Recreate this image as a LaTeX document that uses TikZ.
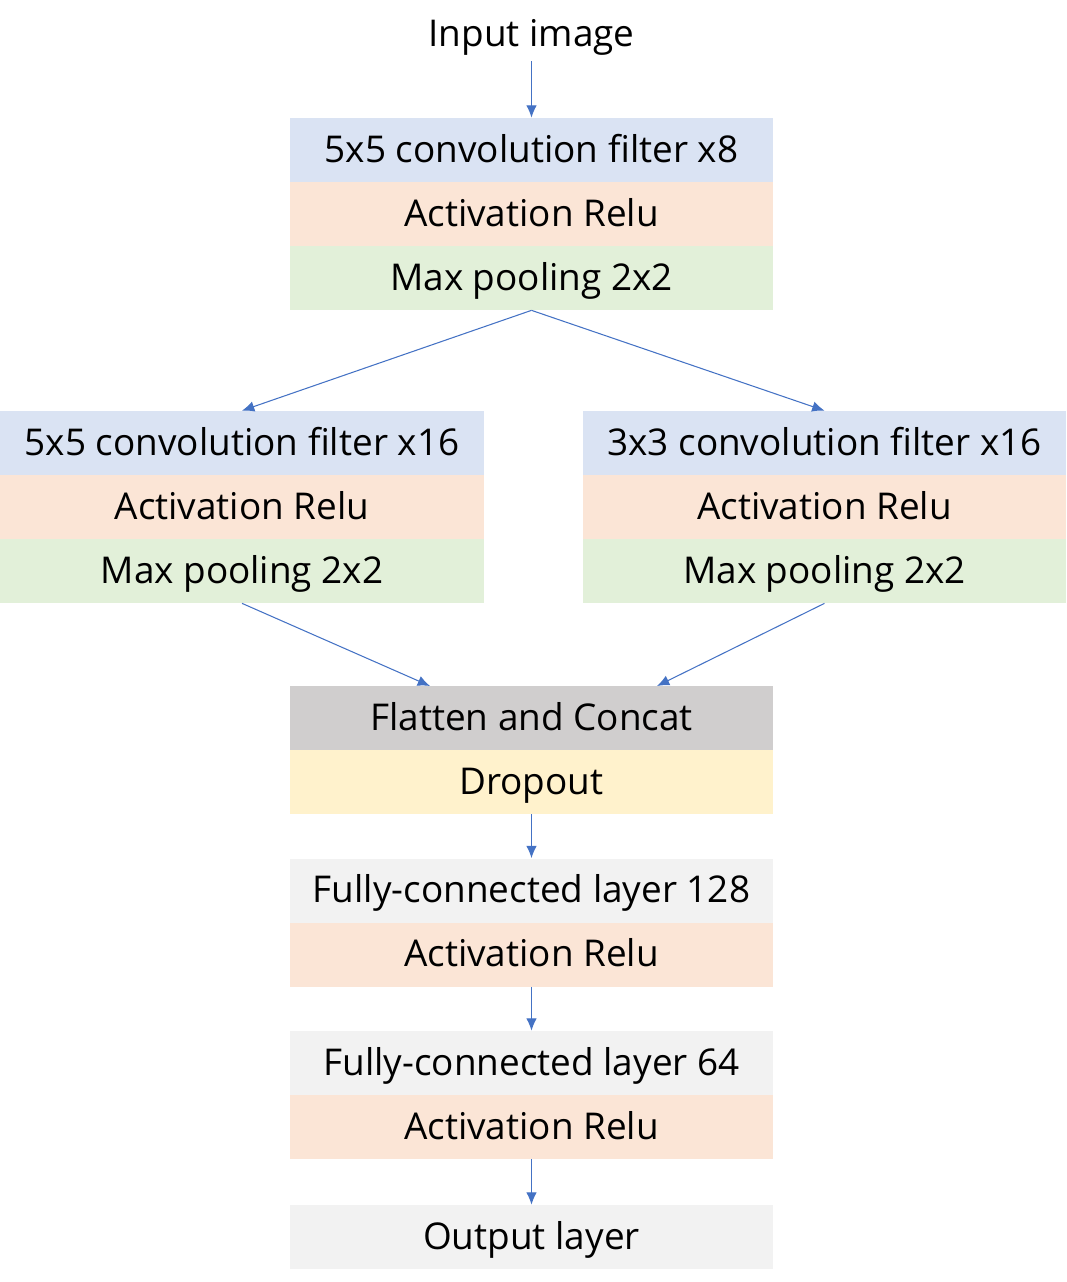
\documentclass[tikz,border=0pt]{standalone}
\usepackage{fontspec}
\setmainfont{Open Sans}
\usetikzlibrary{arrows.meta}
\definecolor{cblue}{HTML}{DAE3F3}
\definecolor{corange}{HTML}{FBE5D6}
\definecolor{cgreen}{HTML}{E2F0D9}
\definecolor{cgray}{HTML}{D0CECE}
\definecolor{cyellow}{HTML}{FFF2CC}
\definecolor{clight}{HTML}{F2F2F2}
\definecolor{carrow}{HTML}{4472C4}
\begin{document}
\begin{tikzpicture}[every node/.style={font=\fontsize{21}{24}\selectfont},
  row/.style={inner sep=0pt,minimum width=9.66cm,minimum height=1.28cm,text height=1.4em,text depth=0pt},
  flow/.style={-{Latex[length=7pt,width=6pt]},carrow,line width=0.6pt}]
\useasboundingbox (0,0) rectangle (21.32,-25.64);
\node (inp) at (10.63,-0.74) {Input image};
% first branch point
\node[row,fill=cblue] (convA) at (10.63,-3.0) {5x5 convolution filter x8};
\node[row,fill=corange] (actA) at (10.63,-4.28) {Activation Relu};
\node[row,fill=cgreen] (poolA) at (10.63,-5.56) {Max pooling 2x2};
% left branch
\node[row,fill=cblue,minimum width=9.68cm] (convL) at (4.84,-8.86) {5x5 convolution filter x16};
\node[row,fill=corange,minimum width=9.68cm] (actL) at (4.84,-10.14) {Activation Relu};
\node[row,fill=cgreen,minimum width=9.68cm] (poolL) at (4.84,-11.42) {Max pooling 2x2};
% right branch
\node[row,fill=cblue] (convR) at (16.49,-8.86) {3x3 convolution filter x16};
\node[row,fill=corange] (actR) at (16.49,-10.14) {Activation Relu};
\node[row,fill=cgreen] (poolR) at (16.49,-11.42) {Max pooling 2x2};
% merge
\node[row,fill=cgray] (flat) at (10.63,-14.36) {Flatten and Concat};
\node[row,fill=cyellow] (drop) at (10.63,-15.64) {Dropout};
\node[row,fill=clight] (fcA) at (10.63,-17.81) {Fully-connected layer 128};
\node[row,fill=corange] (actB) at (10.63,-19.09) {Activation Relu};
\node[row,fill=clight] (fcB) at (10.63,-21.26) {Fully-connected layer 64};
\node[row,fill=corange] (actC) at (10.63,-22.54) {Activation Relu};
\node[row,fill=clight] (outp) at (10.63,-24.74) {Output layer};
\coordinate (inL) at (8.6,-13.72);
\coordinate (inR) at (13.14,-13.72);
\draw[flow] (inp) -- (convA);
\draw[flow] (poolA.south) -- (convL.north); \draw[flow] (poolA.south) -- (convR.north);
\draw[flow] (poolL.south) -- (inL); \draw[flow] (poolR.south) -- (inR);
\draw[flow] (drop) -- (fcA); \draw[flow] (actB) -- (fcB); \draw[flow] (actC) -- (outp);
\end{tikzpicture}
\end{document}
